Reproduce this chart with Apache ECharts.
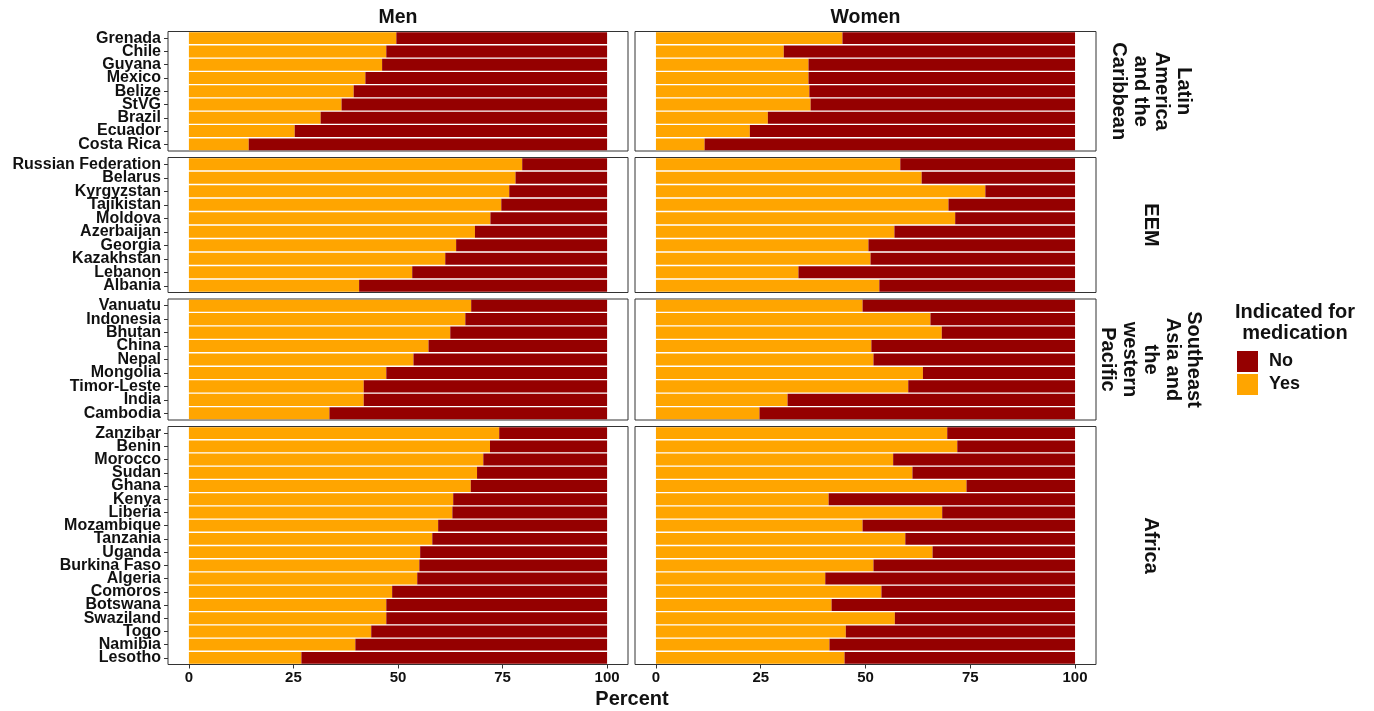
<!DOCTYPE html>
<html>
<head>
<meta charset="utf-8">
<script src="https://cdn.jsdelivr.net/npm/echarts@6/dist/echarts.min.js"></script>
<style>html,body{margin:0;padding:0;background:#fff;}#c{width:1374px;height:711px;}</style>
</head>
<body>
<div id="c"></div>
<script>
// ---- data ----
const regionLabels = ['Latin\nAmerica\nand the\nCaribbean', 'EEM', 'Southeast\nAsia and\nthe\nwestern\nPacific', 'Africa'];
const columnLabels = ['Men', 'Women'];
const legendLabels = ['No', 'Yes'];
const xTicks = [0, 25, 50, 75, 100];

const countriesLAC = ['Grenada','Chile','Guyana','Mexico','Belize','StVG','Brazil','Ecuador','Costa Rica'];
const menYesLAC   = [49.6,47.2,46.2,42.2,39.4,36.5,31.5,25.3,14.3];
const menNoLAC    = [50.4,52.8,53.8,57.8,60.6,63.5,68.5,74.7,85.7];
const womenYesLAC = [44.5,30.5,36.4,36.4,36.6,36.9,26.7,22.4,11.6];
const womenNoLAC  = [55.5,69.5,63.6,63.6,63.4,63.1,73.3,77.6,88.4];

const countriesEEM = ['Russian Federation','Belarus','Kyrgyzstan','Tajikistan','Moldova','Azerbaijan','Georgia','Kazakhstan','Lebanon','Albania'];
const menYesEEM   = [79.7,78.1,76.6,74.7,72.1,68.4,63.9,61.3,53.4,40.7];
const menNoEEM    = [20.3,21.9,23.4,25.3,27.9,31.6,36.1,38.7,46.6,59.3];
const womenYesEEM = [58.3,63.4,78.6,69.8,71.4,56.9,50.7,51.2,34.0,53.3];
const womenNoEEM  = [41.7,36.6,21.4,30.2,28.6,43.1,49.3,48.8,66.0,46.7];

const countriesSEA = ['Vanuatu','Indonesia','Bhutan','China','Nepal','Mongolia','Timor-Leste','India','Cambodia'];
const menYesSEA   = [67.5,66.1,62.5,57.3,53.7,47.2,41.8,41.8,33.6];
const menNoSEA    = [32.5,33.9,37.5,42.7,46.3,52.8,58.2,58.2,66.4];
const womenYesSEA = [49.3,65.5,68.2,51.4,51.9,63.7,60.2,31.4,24.7];
const womenNoSEA  = [50.7,34.5,31.8,48.6,48.1,36.3,39.8,68.6,75.3];

const countriesAFR = ['Zanzibar','Benin','Morocco','Sudan','Ghana','Kenya','Liberia','Mozambique','Tanzania','Uganda','Burkina Faso','Algeria','Comoros','Botswana','Swaziland','Togo','Namibia','Lesotho'];
const menYesAFR   = [74.2,72.0,70.4,68.9,67.4,63.2,63.0,59.6,58.2,55.3,55.1,54.6,48.6,47.2,47.2,43.6,39.8,26.9];
const menNoAFR    = [25.8,28.0,29.6,31.1,32.6,36.8,37.0,40.4,41.8,44.7,44.9,45.4,51.4,52.8,52.8,56.4,60.2,73.1];
const womenYesAFR = [69.5,71.9,56.6,61.2,74.1,41.2,68.3,49.3,59.5,66.0,51.9,40.4,53.8,41.9,57.0,45.3,41.4,45.0];
const womenNoAFR  = [30.5,28.1,43.4,38.8,25.9,58.8,31.7,50.7,40.5,34.0,48.1,59.6,46.2,58.1,43.0,54.7,58.6,55.0];

// ---- layout ----
const FONT = '"Liberation Sans", Arial, sans-serif';
const TXT = '#111';
const COL_YES = '#FFA500';
const COL_NO = '#950000';

const rows = [
  {countries: countriesLAC, yes: [menYesLAC, womenYesLAC], no: [menNoLAC, womenNoLAC]},
  {countries: countriesEEM, yes: [menYesEEM, womenYesEEM], no: [menNoEEM, womenNoEEM]},
  {countries: countriesSEA, yes: [menYesSEA, womenYesSEA], no: [menNoSEA, womenNoSEA]},
  {countries: countriesAFR, yes: [menYesAFR, womenYesAFR], no: [menNoAFR, womenNoAFR]}
];
const rowTop = [31.5, 157.5, 299, 426.5];
const rowH = [119.5, 135, 121, 238];
const colLeft = [168, 635];
const colW = [460, 461];

const grids = [], xAxes = [], yAxes = [], series = [];
rows.forEach((row, r) => {
  [0, 1].forEach(c => {
    const idx = grids.length;
    const bottomRow = r === rows.length - 1;
    grids.push({left: colLeft[c], width: colW[c], top: rowTop[r], height: rowH[r],
      show: true, borderColor: '#333', borderWidth: 1, backgroundColor: '#fff', containLabel: false});
    xAxes.push({gridIndex: idx, type: 'value', min: -5, max: 105, position: 'bottom',
      splitLine: {show: false}, axisLine: {show: false, onZero: false},
      axisTick: {show: bottomRow, customValues: xTicks, length: 4, lineStyle: {color: '#333'}},
      axisLabel: {show: bottomRow, customValues: xTicks, fontSize: 15, fontWeight: 'bold', color: TXT, fontFamily: FONT, margin: 6}});
    yAxes.push({gridIndex: idx, type: 'category', data: row.countries, inverse: true, position: 'left',
      axisLine: {show: false, onZero: false}, splitLine: {show: false},
      axisTick: {show: c === 0, alignWithLabel: true, length: 4, lineStyle: {color: '#333'}},
      axisLabel: {show: c === 0, interval: 0, fontSize: 16, fontWeight: 'bold', color: TXT, fontFamily: FONT, margin: 7}});
    series.push({type: 'bar', name: 'Yes', stack: 's' + idx, xAxisIndex: idx, yAxisIndex: idx,
      data: row.yes[c], barCategoryGap: '10%', itemStyle: {color: COL_YES}});
    series.push({type: 'bar', name: 'No', stack: 's' + idx, xAxisIndex: idx, yAxisIndex: idx,
      data: row.no[c], barCategoryGap: '10%', itemStyle: {color: COL_NO}});
  });
});

const graphics = [];
const colCenters = [398, 865.5];
columnLabels.forEach((t, c) => graphics.push({type: 'text', x: colCenters[c], y: 17.5,
  style: {text: t, font: 'bold 19.5px ' + FONT, fill: TXT, textAlign: 'center', textVerticalAlign: 'middle'}}));
regionLabels.forEach((t, r) => graphics.push({type: 'text', x: 1151, y: rowTop[r] + rowH[r] / 2,
  rotation: -Math.PI / 2,
  style: {text: t, font: 'bold 20px ' + FONT, fill: TXT, textAlign: 'center', textVerticalAlign: 'middle', lineHeight: 21.5}}));
graphics.push({type: 'text', x: 632, y: 699,
  style: {text: 'Percent', font: 'bold 20px ' + FONT, fill: TXT, textAlign: 'center', textVerticalAlign: 'middle'}});
graphics.push({type: 'text', x: 1295, y: 322.5,
  style: {text: 'Indicated for\nmedication', font: 'bold 20px ' + FONT, fill: TXT, textAlign: 'center', textVerticalAlign: 'middle', lineHeight: 21}});

const chart = echarts.init(document.getElementById('c'), null, {renderer: 'canvas'});
chart.setOption({
  animation: false,
  backgroundColor: '#fff',
  grid: grids, xAxis: xAxes, yAxis: yAxes, series: series,
  legend: {data: legendLabels, orient: 'vertical', left: 1237, top: 351, padding: 0,
    itemWidth: 21, itemHeight: 21, itemGap: 2, icon: 'rect', selectedMode: false,
    textStyle: {fontSize: 18, fontWeight: 'bold', color: TXT, fontFamily: FONT, padding: [0, 0, 0, 6]}},
  graphic: graphics
});
</script>
</body>
</html>
